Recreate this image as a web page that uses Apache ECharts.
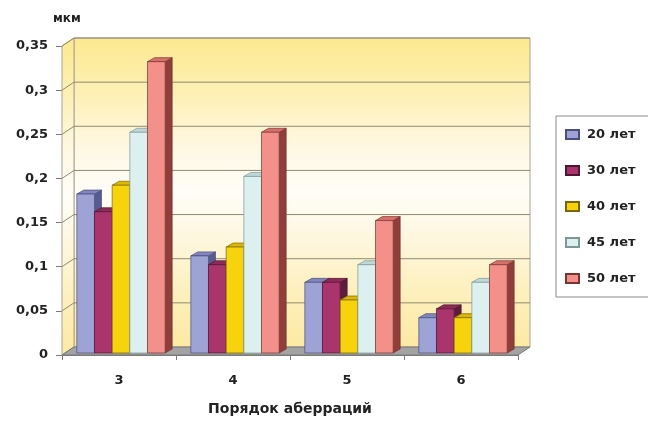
<!DOCTYPE html>
<html>
<head>
<meta charset="utf-8">
<script src="https://cdn.jsdelivr.net/npm/echarts@6/dist/echarts.min.js"></script>
<style>
  html, body { margin: 0; padding: 0; background: #fff; }
  #chart { width: 648px; height: 422px; }
</style>
</head>
<body>
<div id="chart"></div>
<script>
// Aberration order categories and RMS values (мкм) per age group
const categories = ['3', '4', '5', '6'];
const seriesNames = ['20 лет', '30 лет', '40 лет', '45 лет', '50 лет'];
const age20 = [0.18, 0.11, 0.08, 0.04];
const age30 = [0.16, 0.10, 0.08, 0.05];
const age40 = [0.19, 0.12, 0.06, 0.04];
const age45 = [0.25, 0.20, 0.10, 0.08];
const age50 = [0.33, 0.25, 0.15, 0.10];
const yTicks = [0, 0.05, 0.1, 0.15, 0.2, 0.25, 0.3, 0.35];

const seriesValues = [age20, age30, age40, age45, age50];

// face colours: front, top, side
const palette = [
  { front: '#9ea3d6', top: '#8086bf', side: '#575b8e', edge: '#4a4e7a' },
  { front: '#aa346c', top: '#8e2a5a', side: '#5e1b3c', edge: '#4f1632' },
  { front: '#f6d30c', top: '#dcb900', side: '#9c8200', edge: '#7a6600' },
  { front: '#ddf0f0', top: '#bcd8d8', side: '#8aa8a8', edge: '#7d9696' },
  { front: '#f3908a', top: '#d6716a', side: '#8f3e39', edge: '#7a3430' }
];

const FONT = 'DejaVu Sans';
const WALL_DX = 12, WALL_DY = 8;   // depth of the chart box
const BAR_DX = 7, BAR_DY = 4;      // depth of each bar
const BAR_OX = 2, BAR_OY = 2;      // bars sit slightly behind the front plane

const chart = echarts.init(document.getElementById('chart'), null, { renderer: 'canvas' });

function fmt(v) {
  return String(Number(v.toFixed(2))).replace('.', ',');
}

// walls, floor and back-wall gridlines
function renderWalls(params, api) {
  const cs = params.coordSys;
  const x0 = cs.x, x1 = cs.x + cs.width;
  const yTop = cs.y, yBot = cs.y + cs.height;
  const dx = WALL_DX, dy = WALL_DY;
  const wallGrad = new echarts.graphic.LinearGradient(0, 0, 0, 1, [
    { offset: 0, color: '#fce98f' },
    { offset: 0.18, color: '#fdf0b4' },
    { offset: 0.35, color: '#fef8e2' },
    { offset: 0.5, color: '#fffdf8' },
    { offset: 0.65, color: '#fef7de' },
    { offset: 0.82, color: '#fdf0bd' },
    { offset: 1, color: '#fce9a2' }
  ]);
  const children = [];
  // back wall
  children.push({
    type: 'rect',
    shape: { x: x0 + dx, y: yTop - dy, width: cs.width, height: cs.height },
    style: { fill: wallGrad, stroke: '#a8a496', lineWidth: 1 }
  });
  // side wall
  children.push({
    type: 'polygon',
    shape: { points: [[x0, yTop], [x0 + dx, yTop - dy], [x0 + dx, yBot - dy], [x0, yBot]] },
    style: { fill: wallGrad, stroke: '#a8a496', lineWidth: 1 }
  });
  // gridlines on back and side wall
  yTicks.forEach(function (t) {
    const y = api.coord([0, t])[1];
    if (t > 0) {
      children.push({
        type: 'line',
        shape: { x1: x0 + dx, y1: y - dy, x2: x1 + dx, y2: y - dy },
        style: { stroke: '#8e8a72', lineWidth: 1 }
      });
    }
    children.push({
      type: 'line',
      shape: { x1: x0, y1: y, x2: x0 + dx, y2: y - dy },
      style: { stroke: '#8e8a72', lineWidth: 1 }
    });
  });
  // floor
  children.push({
    type: 'polygon',
    shape: { points: [[x0, yBot], [x0 + dx, yBot - dy], [x1 + dx, yBot - dy], [x1, yBot]] },
    style: { fill: '#a3a3a3', stroke: '#7a7a7a', lineWidth: 1 }
  });
  return { type: 'group', children: children };
}

function makeBarRenderer(i) {
  const c = palette[i];
  return function (params, api) {
    const cat = api.value(0);
    const v = api.value(1);
    const base = api.coord([cat, 0]);
    const top = api.coord([cat, v]);
    const band = api.size([1, 0])[0];
    const bw = band * 0.155;
    const n = seriesNames.length;
    const xa = base[0] + (i - n / 2) * bw + BAR_OX;
    const xb = xa + bw;
    const yT = top[1] - BAR_OY;
    const yB = base[1] - BAR_OY;
    return {
      type: 'group',
      children: [
        {
          type: 'polygon',
          shape: { points: [[xb, yT], [xb + BAR_DX, yT - BAR_DY], [xb + BAR_DX, yB - BAR_DY], [xb, yB]] },
          style: { fill: c.side, stroke: c.edge, lineWidth: 0.7 }
        },
        {
          type: 'polygon',
          shape: { points: [[xa, yT], [xa + BAR_DX, yT - BAR_DY], [xb + BAR_DX, yT - BAR_DY], [xb, yT]] },
          style: { fill: c.top, stroke: c.edge, lineWidth: 0.7 }
        },
        {
          type: 'rect',
          shape: { x: xa, y: yT, width: bw, height: yB - yT },
          style: { fill: c.front, stroke: c.edge, lineWidth: 0.7 }
        }
      ]
    };
  };
}

const series = [{
  type: 'custom',
  name: '__walls',
  silent: true,
  clip: false,
  z: 1,
  renderItem: renderWalls,
  data: [[0, 0]]
}];

seriesNames.forEach(function (name, i) {
  series.push({
    type: 'custom',
    name: name,
    clip: false,
    z: 2,
    itemStyle: { color: palette[i].front, borderColor: palette[i].edge, borderWidth: 1 },
    renderItem: makeBarRenderer(i),
    data: seriesValues[i].map(function (v, k) { return [k, v]; })
  });
});

chart.setOption({
  animation: false,
  backgroundColor: '#ffffff',
  title: {
    text: 'мкм',
    left: 48,
    top: 8,
    textStyle: { fontFamily: FONT, fontSize: 12, fontWeight: 'bold', color: '#222' }
  },
  legend: {
    data: seriesNames,
    orient: 'vertical',
    left: 556,
    top: 116,
    icon: 'rect',
    itemWidth: 13,
    itemHeight: 9,
    itemGap: 23,
    padding: [12, 40, 12, 9],
    borderColor: '#8a8a8a',
    borderWidth: 1,
    textStyle: { fontFamily: FONT, fontSize: 13, fontWeight: 'bold', color: '#222', padding: [0, 0, 0, 3] }
  },
  grid: { left: 62, right: 130, top: 46, bottom: 67 },
  xAxis: {
    type: 'category',
    data: categories,
    name: 'Порядок аберраций',
    nameLocation: 'middle',
    nameGap: 47,
    nameTextStyle: { fontFamily: FONT, fontSize: 14, fontWeight: 'bold', color: '#222' },
    axisLine: { lineStyle: { color: '#7a7a7a', width: 1 } },
    axisTick: { show: true, interval: 0, length: 5, lineStyle: { color: '#7a7a7a' } },
    axisLabel: { fontFamily: FONT, fontSize: 13, fontWeight: 'bold', color: '#222', margin: 19 },
    splitLine: { show: false }
  },
  yAxis: {
    type: 'value',
    min: 0,
    max: 0.35,
    interval: 0.05,
    axisLine: { show: true, lineStyle: { color: '#7a7a7a', width: 1 } },
    axisTick: { show: true, length: 6, lineStyle: { color: '#7a7a7a' } },
    axisLabel: { fontFamily: FONT, fontSize: 13, fontWeight: 'bold', color: '#222', margin: 14, formatter: fmt },
    splitLine: { show: false }
  },
  series: series
});
</script>
</body>
</html>
